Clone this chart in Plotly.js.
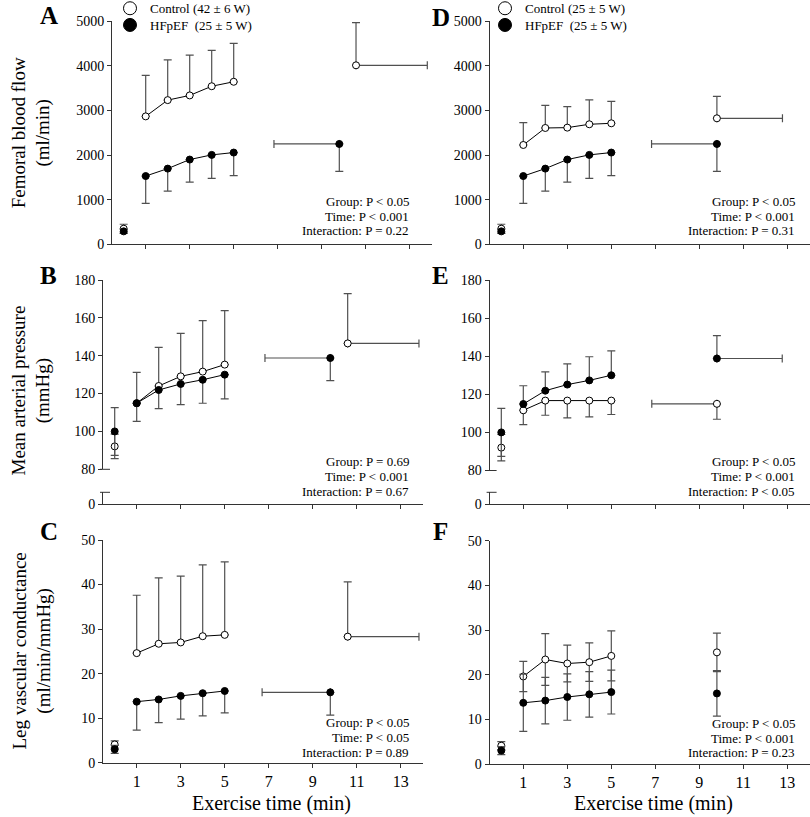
<!DOCTYPE html>
<html><head><meta charset="utf-8">
<script src="https://cdn.plot.ly/plotly-3.0.1.min.js"></script>
<style>html,body{margin:0;padding:0;background:#fff}#chart{width:810px;height:817px}</style>
</head><body><div id="chart"></div>
<script>
// ================= DATA =================
const restTime = [0];
const exerciseTime = [1, 2, 3, 4, 5];
const xTickVals = [1, 3, 5, 7, 9, 11, 13];
const xTickText = ['1', '3', '5', '7', '9', '11', '13'];
const legendLeftNames = ['Control (42 \u00b1 6 W)', 'HFpEF\u00a0 (25 \u00b1 5 W)'];
const legendRightNames = ['Control (25 \u00b1 5 W)', 'HFpEF\u00a0 (25 \u00b1 5 W)'];

// Femoral blood flow (ml/min)
const fbfC42Rest = [350], fbfC42RestSD = [100];
const fbfC42 = [2868, 3233, 3338, 3544, 3644];
const fbfC42SD = [918, 900, 903, 803, 859];
const fbfC42PeakTime = [10.56], fbfC42PeakTimeSD = [3.24], fbfC42Peak = [4013], fbfC42PeakSD = [957];
const fbfC25Rest = [350], fbfC25RestSD = [100];
const fbfC25 = [2227, 2608, 2616, 2691, 2713];
const fbfC25SD = [501, 509, 471, 545, 493];
const fbfC25PeakTime = [9.8], fbfC25PeakTimeSD = [2.98], fbfC25Peak = [2825], fbfC25PeakSD = [493];
const fbfHFRest = [290], fbfHFRestSD = [45];
const fbfHF = [1530, 1697, 1900, 2005, 2057];
const fbfHFSD = [613, 506, 505, 525, 518];
const fbfHFPeakTime = [9.8], fbfHFPeakTimeSD = [2.97], fbfHFPeak = [2250], fbfHFPeakSD = [613];

// Mean arterial pressure (mmHg)
const mapC42Rest = [92.1], mapC42RestSD = [6.5];
const mapC42 = [114.9, 124.0, 129.1, 131.6, 135.3];
const mapC42SD = [16.3, 20.4, 22.7, 26.9, 28.5];
const mapC42PeakTime = [10.59], mapC42PeakTimeSD = [3.24], mapC42Peak = [146.5], mapC42PeakSD = [26.3];
const mapC25Rest = [92.0], mapC25RestSD = [6.9];
const mapC25 = [111.6, 116.7, 116.7, 116.7, 116.7];
const mapC25SD = [7.5, 7.7, 9.1, 8.6, 7.3];
const mapC25PeakTime = [9.8], mapC25PeakTimeSD = [2.96], mapC25Peak = [115.0], mapC25PeakSD = [8.1];
const mapHFRest = [100.0], mapHFRestSD = [12.6];
const mapHF = [114.9, 121.9, 125.1, 127.3, 130.0];
const mapHFSD = [9.6, 9.9, 10.9, 12.4, 12.8];
const mapHFPeakTime = [9.8], mapHFPeakTimeSD = [2.97], mapHFPeak = [138.8], mapHFPeakSD = [12.0];

// Leg vascular conductance (ml/min/mmHg)
const lvcC42Rest = [4.1], lvcC42RestSD = [0.8];
const lvcC42 = [24.6, 26.7, 27.0, 28.4, 28.7];
const lvcC42SD = [13.0, 14.8, 14.9, 16.0, 16.4];
const lvcC42PeakTime = [10.59], lvcC42PeakTimeSD = [3.24], lvcC42Peak = [28.3], lvcC42PeakSD = [12.3];
const lvcC25Rest = [4.1], lvcC25RestSD = [0.9];
const lvcC25 = [19.6, 23.4, 22.5, 22.8, 24.2];
const lvcC25SD = [3.4, 5.8, 4.1, 4.3, 5.6];
const lvcC25PeakTime = [9.8], lvcC25PeakTimeSD = [0], lvcC25Peak = [25.0], lvcC25PeakSD = [4.3];
const lvcHFRest = [3.0], lvcHFRestSD = [0.9];
const lvcHF = [13.7, 14.2, 15.0, 15.6, 16.1];
const lvcHFSD = [6.4, 5.2, 5.2, 5.1, 4.9];
const lvcHFPeakTime = [9.8], lvcHFPeakTimeSD = [3.1], lvcHFPeak = [15.8], lvcHFPeakSD = [5.1];

const statsA = ['Group: P < 0.05', 'Time: P < 0.001', 'Interaction: P = 0.22'];
const statsB = ['Group: P = 0.69', 'Time: P < 0.001', 'Interaction: P = 0.67'];
const statsC = ['Group: P < 0.05', 'Time: P < 0.05', 'Interaction: P = 0.89'];
const statsD = ['Group: P < 0.05', 'Time: P < 0.001', 'Interaction: P = 0.31'];
const statsE = ['Group: P < 0.05', 'Time: P < 0.001', 'Interaction: P < 0.05'];
const statsF = ['Group: P < 0.05', 'Time: P < 0.001', 'Interaction: P = 0.23'];

// ================= STYLE / BUILD =================
const W = 810, H = 817;
const px = v => v / W;
const py = v => 1 - v / H;
const FONT = '"Liberation Serif", "Times New Roman", serif';
const AX = '#333';
const ERR = '#505050';
const PXMIN = 22;       // pixels per minute
const X0 = -0.532;      // range start

function errY(sd, dir) {
  const z = sd.map(() => 0);
  return {type: 'data', symmetric: false,
    array: dir === 'down' ? z : sd, arrayminus: dir === 'up' ? z : sd,
    color: ERR, thickness: 1.2, width: 4};
}
function errX(sd, dir) {
  if (dir === 'none') return {visible: false};
  const z = sd.map(() => 0);
  return {type: 'data', symmetric: false,
    array: dir === 'left' ? z : sd, arrayminus: dir === 'right' ? z : sd,
    color: ERR, thickness: 1.2, width: 4};
}
function marker(filled) {
  return {symbol: 'circle', size: 7, color: filled ? '#000' : '#fff', line: {color: '#000', width: 1}};
}
const traces = [];
function group(xa, ya, filled, d, vDir, tDir) {
  traces.push({x: restTime, y: d.rest, xaxis: xa, yaxis: ya, mode: 'markers', showlegend: false,
    marker: marker(filled), error_y: errY(d.restSD, 'both'), hoverinfo: 'skip'});
  traces.push({x: exerciseTime, y: d.ex, xaxis: xa, yaxis: ya, mode: 'lines+markers', showlegend: false,
    line: {color: '#000', width: 1}, marker: marker(filled), error_y: errY(d.exSD, vDir), hoverinfo: 'skip'});
  traces.push({x: d.pt, y: d.pk, xaxis: xa, yaxis: ya, mode: 'markers', showlegend: false,
    marker: marker(filled), error_y: errY(d.pkSD, vDir), error_x: errX(d.ptSD, tDir), hoverinfo: 'skip'});
}
// Panel A
group('x', 'y', false, {rest: fbfC42Rest, restSD: fbfC42RestSD, ex: fbfC42, exSD: fbfC42SD, pt: fbfC42PeakTime, ptSD: fbfC42PeakTimeSD, pk: fbfC42Peak, pkSD: fbfC42PeakSD}, 'up', 'right');
group('x', 'y', true, {rest: fbfHFRest, restSD: fbfHFRestSD, ex: fbfHF, exSD: fbfHFSD, pt: fbfHFPeakTime, ptSD: fbfHFPeakTimeSD, pk: fbfHFPeak, pkSD: fbfHFPeakSD}, 'down', 'left');
// Panel B
group('x2', 'y2', false, {rest: mapC42Rest, restSD: mapC42RestSD, ex: mapC42, exSD: mapC42SD, pt: mapC42PeakTime, ptSD: mapC42PeakTimeSD, pk: mapC42Peak, pkSD: mapC42PeakSD}, 'up', 'right');
group('x2', 'y2', true, {rest: mapHFRest, restSD: mapHFRestSD, ex: mapHF, exSD: mapHFSD, pt: mapHFPeakTime, ptSD: mapHFPeakTimeSD, pk: mapHFPeak, pkSD: mapHFPeakSD}, 'down', 'left');
// Panel C
group('x3', 'y3', false, {rest: lvcC42Rest, restSD: lvcC42RestSD, ex: lvcC42, exSD: lvcC42SD, pt: lvcC42PeakTime, ptSD: lvcC42PeakTimeSD, pk: lvcC42Peak, pkSD: lvcC42PeakSD}, 'up', 'right');
group('x3', 'y3', true, {rest: lvcHFRest, restSD: lvcHFRestSD, ex: lvcHF, exSD: lvcHFSD, pt: lvcHFPeakTime, ptSD: lvcHFPeakTimeSD, pk: lvcHFPeak, pkSD: lvcHFPeakSD}, 'down', 'left');
// Panel D
group('x4', 'y4', false, {rest: fbfC25Rest, restSD: fbfC25RestSD, ex: fbfC25, exSD: fbfC25SD, pt: fbfC25PeakTime, ptSD: fbfC25PeakTimeSD, pk: fbfC25Peak, pkSD: fbfC25PeakSD}, 'up', 'right');
group('x4', 'y4', true, {rest: fbfHFRest, restSD: fbfHFRestSD, ex: fbfHF, exSD: fbfHFSD, pt: fbfHFPeakTime, ptSD: fbfHFPeakTimeSD, pk: fbfHFPeak, pkSD: fbfHFPeakSD}, 'down', 'left');
// Panel E
group('x5', 'y5', false, {rest: mapC25Rest, restSD: mapC25RestSD, ex: mapC25, exSD: mapC25SD, pt: mapC25PeakTime, ptSD: mapC25PeakTimeSD, pk: mapC25Peak, pkSD: mapC25PeakSD}, 'down', 'left');
group('x5', 'y5', true, {rest: mapHFRest, restSD: mapHFRestSD, ex: mapHF, exSD: mapHFSD, pt: mapHFPeakTime, ptSD: mapHFPeakTimeSD, pk: mapHFPeak, pkSD: mapHFPeakSD}, 'up', 'right');
// Panel F
group('x6', 'y6', false, {rest: lvcC25Rest, restSD: lvcC25RestSD, ex: lvcC25, exSD: lvcC25SD, pt: lvcC25PeakTime, ptSD: lvcC25PeakTimeSD, pk: lvcC25Peak, pkSD: lvcC25PeakSD}, 'both', 'none');
group('x6', 'y6', true, {rest: lvcHFRest, restSD: lvcHFRestSD, ex: lvcHF, exSD: lvcHFSD, pt: lvcHFPeakTime, ptSD: lvcHFPeakTimeSD, pk: lvcHFPeak, pkSD: lvcHFPeakSD}, 'both', 'none');

// empty traces that create the lower (broken) axis segments of panels B and E
traces.push({x: [null], y: [null], xaxis: 'x2', yaxis: 'y7', mode: 'markers', showlegend: false, hoverinfo: 'skip'});
traces.push({x: [null], y: [null], xaxis: 'x5', yaxis: 'y8', mode: 'markers', showlegend: false, hoverinfo: 'skip'});

// legend entries
function legendTrace(name, filled, xa, ya, leg) {
  traces.push({x: [null], y: [null], xaxis: xa, yaxis: ya, mode: 'markers', name: name, legend: leg,
    marker: {symbol: 'circle', size: 13, color: filled ? '#000' : '#fff', line: {color: '#000', width: 1}}});
}
legendTrace(legendLeftNames[0], false, 'x', 'y', 'legend');
legendTrace(legendLeftNames[1], true, 'x', 'y', 'legend3');
legendTrace(legendRightNames[0], false, 'x4', 'y4', 'legend2');
legendTrace(legendRightNames[1], true, 'x4', 'y4', 'legend4');

function xAxis(left, right, anchor, labels) {
  return {domain: [px(left), px(right)], range: [X0, X0 + (right - left) / PXMIN], anchor: anchor,
    tickvals: xTickVals, ticktext: xTickText, showticklabels: labels,
    ticks: 'outside', ticklen: 4, tickcolor: AX, showline: true, linecolor: AX, linewidth: 1,
    showgrid: false, zeroline: false, tickfont: {family: FONT, size: 16, color: '#000'}};
}
function yAxis(bottom, top, range, tickvals, anchor) {
  return {domain: [py(bottom), py(top)], range: range, anchor: anchor, tickvals: tickvals,
    ticks: 'outside', ticklen: 4, tickcolor: AX, showline: true, linecolor: AX, linewidth: 1,
    showgrid: false, zeroline: false, tickfont: {family: FONT, size: 14, color: '#000'}};
}
const fbfTicks = [0, 1000, 2000, 3000, 4000, 5000];
const mapTicks = [80, 100, 120, 140, 160, 180];
const lvcTicks = [0, 10, 20, 30, 40, 50];

const annotations = [];
function ann(text, x, y, opts) {
  annotations.push(Object.assign({text: text, x: px(x), y: py(y), xref: 'paper', yref: 'paper',
    showarrow: false, font: {family: FONT, size: 13, color: '#000'}}, opts || {}));
}
function stats(lines, right, y0) {
  lines.forEach((t, i) => ann(t, right, y0 + i * 14.7, {xanchor: 'right', yanchor: 'middle'}));
}
stats(statsA, 411, 201.3); stats(statsB, 411, 461.7); stats(statsC, 411, 722.7);
stats(statsD, 797, 201.3); stats(statsE, 797, 461.7); stats(statsF, 797, 723.3);
const letterFont = {family: FONT, size: 25, color: '#000', weight: 'bold'};
[['A', 49, 16], ['B', 48, 275], ['C', 49, 531], ['D', 441, 17], ['E', 440, 275], ['F', 440, 531]]
  .forEach(l => ann('<b>' + l[0] + '</b>', l[1], l[2], {xanchor: 'center', yanchor: 'middle', font: letterFont}));
const titleFont = {family: FONT, size: 19, color: '#000'};
ann('Femoral blood flow<br>(ml/min)', 31.5, 132.8, {textangle: -90, xanchor: 'center', yanchor: 'middle', font: titleFont});
ann('Mean arterial pressure<br>(mmHg)', 31.5, 391, {textangle: -90, xanchor: 'center', yanchor: 'middle', font: titleFont});
ann('Leg vascular conductance<br>(ml/min/mmHg)', 31.5, 651, {textangle: -90, xanchor: 'center', yanchor: 'middle', font: titleFont});
ann('Exercise time (min)', 271.7, 803, {xanchor: 'center', yanchor: 'middle', font: {family: FONT, size: 20, color: '#000'}});
ann('Exercise time (min)', 653, 803, {xanchor: 'center', yanchor: 'middle', font: {family: FONT, size: 20, color: '#000'}});

const shapes = [];
function brk(axisPx, yPx) {
  shapes.push({type: 'line', xref: 'paper', yref: 'paper', x0: px(axisPx - 3), x1: px(axisPx + 7),
    y0: py(yPx), y1: py(yPx), line: {color: AX, width: 1}});
}
brk(103, 469.3); brk(103, 492.3); brk(489.6, 470.5); brk(489.6, 492.3);

const legendBase = {xanchor: 'left', yanchor: 'top', bgcolor: 'rgba(0,0,0,0)', borderwidth: 0,
  font: {family: FONT, size: 13, color: '#000'}, itemwidth: 30, tracegroupgap: 0};

const layout = {
  width: W, height: H, margin: {l: 0, r: 0, t: 0, b: 0, autoexpand: false},
  paper_bgcolor: '#fff', plot_bgcolor: 'rgba(0,0,0,0)',
  font: {family: FONT, color: '#000'}, showlegend: true,
  legend: Object.assign({}, legendBase, {x: px(110), y: py(-6.7)}),
  legend3: Object.assign({}, legendBase, {x: px(110), y: py(10)}),
  legend2: Object.assign({}, legendBase, {x: px(485), y: py(-6.7)}),
  legend4: Object.assign({}, legendBase, {x: px(485), y: py(10)}),
  xaxis: xAxis(112, 432, 'y', false),
  yaxis: yAxis(244.3, 21.3, [0, 5000], fbfTicks, 'x'),
  xaxis2: xAxis(103, 423, 'y7', false),
  yaxis2: yAxis(469.3, 280, [80, 180], mapTicks, 'x2'),
  yaxis7: yAxis(504.3, 492.3, [0, 1], [0], 'x2'),
  xaxis3: xAxis(103, 423, 'y3', true),
  yaxis3: yAxis(762.7, 540, [0, 50], lvcTicks, 'x3'),
  xaxis4: xAxis(489.6, 810, 'y4', false),
  yaxis4: yAxis(244.3, 21.3, [0, 5000], fbfTicks, 'x4'),
  xaxis5: xAxis(489.6, 810, 'y8', false),
  yaxis5: yAxis(470.5, 280, [80, 180], mapTicks, 'x5'),
  yaxis8: yAxis(504.3, 492.3, [0, 1], [0], 'x5'),
  xaxis6: xAxis(489.6, 810, 'y6', true),
  yaxis6: yAxis(764, 540.7, [0, 50], lvcTicks, 'x6'),
  annotations: annotations, shapes: shapes
};
Plotly.newPlot('chart', traces, layout, {displayModeBar: false, staticPlot: true});
</script>
</body></html>
